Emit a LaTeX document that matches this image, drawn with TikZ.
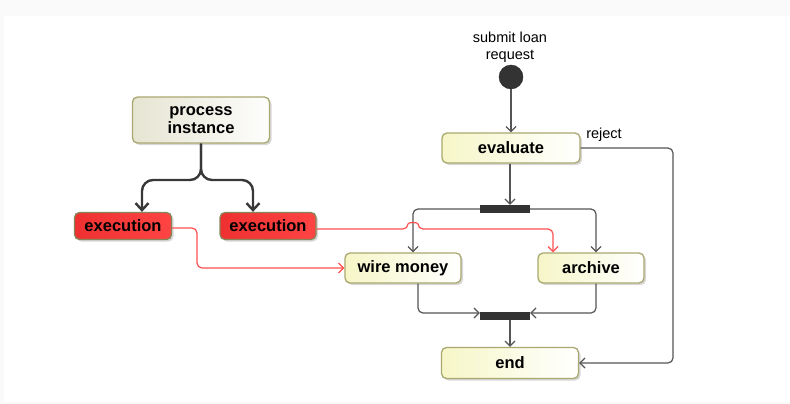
\documentclass[tikz,border=0pt]{standalone}
\usepackage{fontspec}
\setmainfont{Liberation Sans}
\usetikzlibrary{arrows.meta,shadows}
\definecolor{actleft}{HTML}{F6F6C8}
\definecolor{actdraw}{HTML}{A9A870}
\definecolor{procleft}{HTML}{E6E4D2}
\definecolor{execleft}{HTML}{EE3030}
\definecolor{execright}{HTML}{FF4444}
\definecolor{flowgray}{HTML}{555555}
\definecolor{flowred}{HTML}{FF5050}
\definecolor{bardark}{HTML}{333333}

\begin{document}
\begin{tikzpicture}[x=1pt, y=-1pt,
  >={Straight Barb[length=5pt,width=10pt]},
  boxshadow/.style={drop shadow={shadow xshift=2pt, shadow yshift=-2pt, fill=black!30, opacity=0.5}},
  activity/.style={draw=actdraw, line width=1.3pt, rounded corners=5pt, left color=actleft, right color=white,
    boxshadow, font=\bfseries\fontsize{16.5}{17.5}\selectfont, inner sep=0pt, minimum height=30pt},
  procbox/.style={activity, left color=procleft, right color=white!95!procleft, align=center},
  execbox/.style={activity, left color=execleft, right color=execright, draw=actdraw!80!black, minimum height=27pt},
  bar/.style={fill=bardark, minimum width=50pt, minimum height=8pt, inner sep=0pt},
  flow/.style={draw=flowgray, line width=1.2pt, rounded corners=5pt},
  redflow/.style={draw=flowred, line width=1.2pt, rounded corners=5pt},
  splitflow/.style={draw=black!78, line width=2.4pt, rounded corners=11pt, >={Straight Barb[length=7pt,width=13pt]}},
  note/.style={font=\fontsize{14.5}{17}\selectfont, inner sep=0pt, align=center}]
\useasboundingbox (0,0) rectangle (790,404);
% background
\fill[black!2] (0,0) rectangle (790,404);
\fill[white] (4,16) rectangle (790,402);
% process part
\node[procbox, minimum width=137pt, minimum height=46pt] (proc) at (201,120) {process\\instance};
\node[execbox, minimum width=97pt] (execL) at (123,226) {execution};
\node[execbox, minimum width=96pt] (execR) at (268,226) {execution};
\coordinate (split) at (201,180);
\draw[splitflow,->] (proc.south) -- (split) -| ([xshift=19pt]execL.north);
\draw[splitflow,->] (proc.south) -- (split) -| ([xshift=-15pt]execR.north);
% loan workflow
\node[circle, fill=bardark, draw=black!85, minimum size=24pt, inner sep=0pt] (init) at (511,77) {};
\node[note] (submit) at (510,47) {submit loan\\request};
\node[activity, minimum width=138pt] (eval) at (511,148) {evaluate};
\node[note] (rejlbl) at (604,135) {reject};
\node[bar] (fork) at (505,209) {};
\node[activity, minimum width=116pt] (wire) at (403,268) {wire money};
\node[activity, minimum width=106pt] (arch) at (591,268) {archive};
\node[bar] (join) at (505,316) {};
\node[activity, minimum width=137pt, minimum height=31pt] (endn) at (510,363) {end};
% flows
\draw[flow,->] (init) -- (eval);
\draw[flow,->] ([xshift=-1pt]eval.south) -- ([xshift=5pt]fork.north);
\draw[flow,->] (fork.west) -| ([xshift=10pt]wire.north);
\draw[flow,->] (fork.east) -| ([xshift=5pt]arch.north);
\draw[flow,->] ([xshift=15pt]wire.south) |- ([yshift=3pt]join.west);
\draw[flow,->] ([xshift=5pt]arch.south) |- ([yshift=3pt]join.east);
\draw[flow,->] ([xshift=5pt]join.south) -- (endn.north);
\coordinate (rj) at (673,148);
\draw[flow,->] (eval.east) -- (rj) |- (endn.east);
% execution links
\coordinate (redL) at (197,228);
\coordinate (hop) at (413,229);
\draw[redflow,->] ([yshift=-2pt]execL.east) -- (redL) |- (wire.west);
\draw[redflow,->] ([yshift=-3pt]execR.east) -- ([xshift=-5pt]hop)
  .. controls ([xshift=-5pt,yshift=7pt]hop) and ([xshift=5pt,yshift=7pt]hop) .. ([xshift=5pt]hop)
  -| ([xshift=-38pt]arch.north);
\end{tikzpicture}
\end{document}
